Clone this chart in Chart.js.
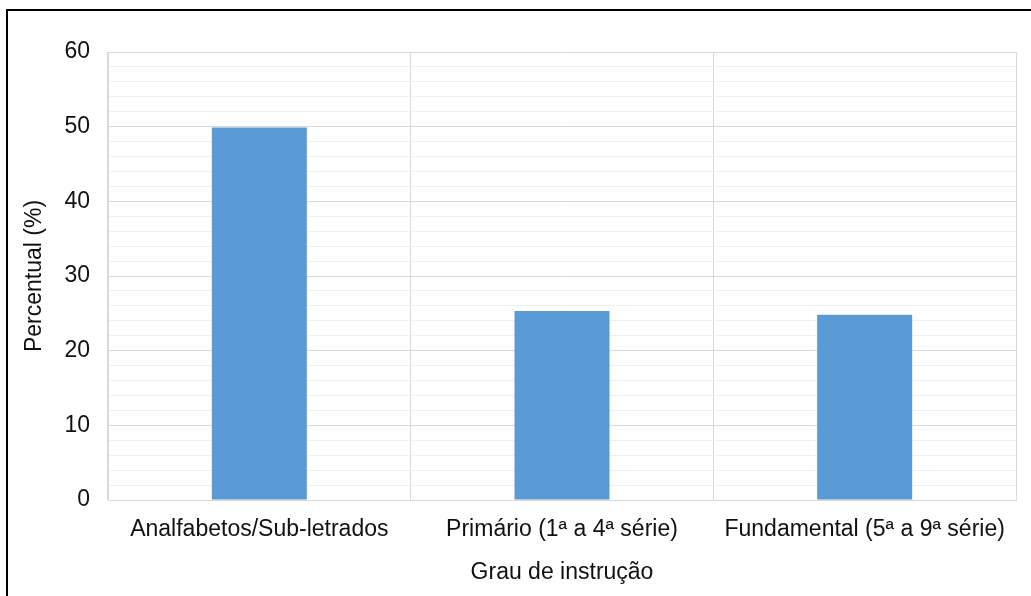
<!DOCTYPE html>
<html>
<head>
<meta charset="utf-8">
<script src="https://cdn.jsdelivr.net/npm/chart.js@4/dist/chart.umd.min.js"></script>
<style>
  html, body { margin: 0; padding: 0; background: #fff; overflow: hidden; }
  #frame { position: absolute; left: 6px; top: 9px; width: 1100px; height: 700px;
           border-top: 2px solid #000; border-left: 2px solid #000; }
  #wrap { position: absolute; left: 0; top: 0; width: 1031px; height: 596px; }
</style>
</head>
<body>
<div id="frame"></div>
<div id="wrap"><canvas id="c" width="1031" height="596"></canvas></div>
<script>
const categories = ["Analfabetos/Sub-letrados", "Primário (1ª a 4ª série)", "Fundamental (5ª a 9ª série)"];
const percentValues = [49.9, 25.3, 24.8];
const yTickLabels = [0, 10, 20, 30, 40, 50, 60];
const xAxisTitle = "Grau de instrução";
const yAxisTitle = "Percentual (%)";

const FONT = "'Liberation Sans', Arial, sans-serif";
const TXT = "#111";

new Chart(document.getElementById('c'), {
  type: 'bar',
  data: {
    labels: categories,
    datasets: [{
      data: percentValues,
      backgroundColor: '#5B9BD5',
      borderWidth: 0,
      barPercentage: 1,
      categoryPercentage: 0.314
    }]
  },
  options: {
    responsive: false,
    animation: false,
    devicePixelRatio: 1,
    layout: { padding: { left: 21, top: 52, right: 15, bottom: 10 } },
    plugins: { legend: { display: false }, tooltip: { enabled: false } },
    scales: {
      x: {
        grid: { display: true, color: '#d9d9d9', drawTicks: false, offset: true },
        border: { display: true, color: '#d9d9d9' },
        ticks: { color: TXT, font: { family: FONT, size: 23 }, padding: 16, maxRotation: 0, autoSkip: false },
        title: { display: true, text: xAxisTitle, color: TXT, font: { family: FONT, size: 23 }, padding: 0 },
        afterFit: (s) => { s.height = 86; }
      },
      y: {
        min: 0, max: 60,
        ticks: {
          stepSize: 2,
          color: TXT,
          font: { family: FONT, size: 23 },
          padding: 18,
          autoSkip: false,
          callback: (v) => yTickLabels.includes(v) ? String(v) : ''
        },
        grid: {
          drawTicks: false,
          color: (ctx) => (ctx.tick && ctx.tick.value % 10 === 0) ? '#d9d9d9' : '#f0f0f0'
        },
        border: { display: true, color: '#d9d9d9' },
        title: { display: true, text: yAxisTitle, color: TXT, font: { family: FONT, size: 23 }, padding: 0 },
        afterFit: (s) => { s.width = 87; }
      }
    }
  },
  plugins: [{
    id: 'rightEdge',
    afterDraw(chart) {
      const a = chart.chartArea, ctx = chart.ctx;
      ctx.save();
      ctx.strokeStyle = '#d9d9d9'; ctx.lineWidth = 1;
      ctx.beginPath(); ctx.moveTo(a.right + 0.5, a.top); ctx.lineTo(a.right + 0.5, a.bottom); ctx.stroke();
      ctx.restore();
    }
  }]
});
</script>
</body>
</html>
